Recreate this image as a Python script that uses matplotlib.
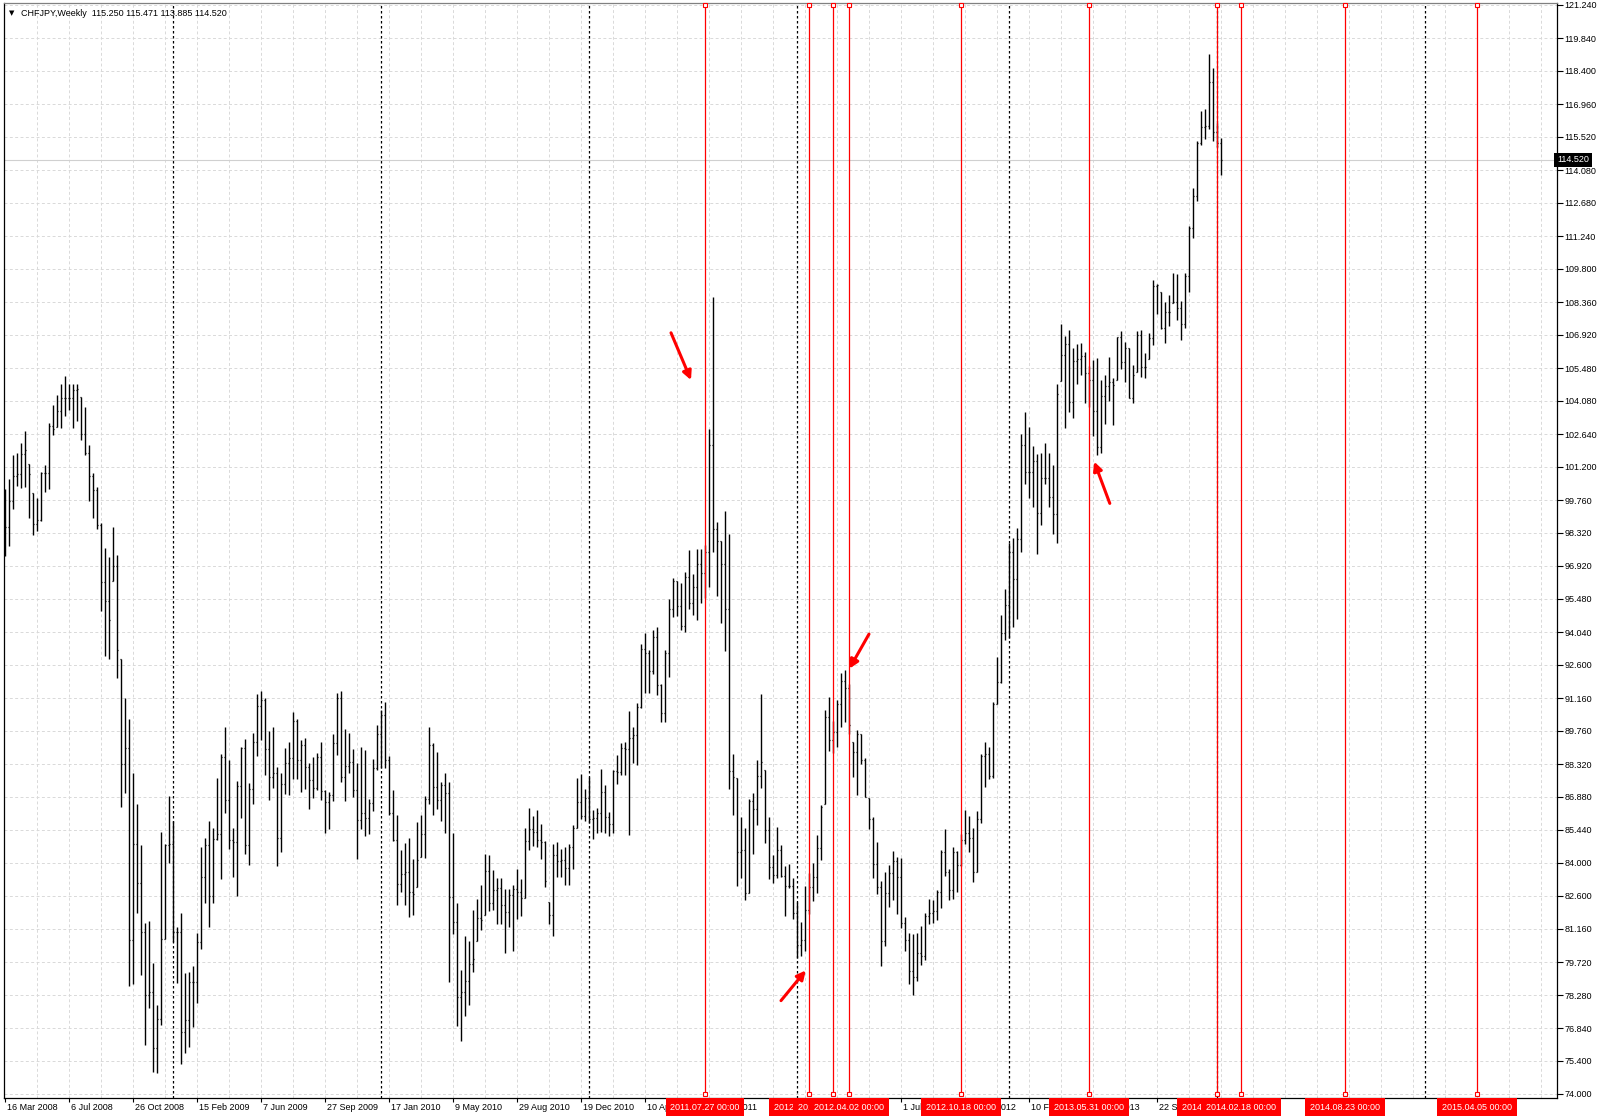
import datetime as dt
import numpy as np
import matplotlib
matplotlib.use("Agg")
import matplotlib.pyplot as plt

plt.rcParams['font.family'] = ['Liberation Sans', 'DejaVu Sans']

# weekly CHFJPY bars, first bar = week of 16 Mar 2008
start = dt.date(2008, 3, 16)
first_open = 99.80
highs = [
    100.26, 100.69, 101.72, 101.82, 102.25, 102.75, 101.31, 100.06, 99.87, 101.00,
    101.29, 103.12, 103.90, 104.31, 104.78, 105.13, 104.80, 104.80, 104.80, 104.25,
    103.80, 102.17, 100.94, 100.32, 98.78, 97.69, 97.28, 98.58, 97.39, 92.85,
    91.16, 90.26, 87.94, 86.60, 84.81, 81.42, 81.49, 79.68, 77.85, 85.37,
    84.86, 86.91, 85.84, 81.26, 81.84, 79.27, 79.31, 79.56, 81.00, 84.72,
    85.12, 85.85, 85.52, 87.69, 88.74, 89.90, 88.49, 85.54, 87.58, 89.07,
    89.39, 87.48, 89.65, 91.37, 91.47, 91.18, 89.75, 89.94, 88.20, 87.94,
    89.03, 89.26, 90.57, 90.28, 89.36, 89.44, 88.35, 88.61, 88.78, 89.29,
    87.18, 87.08, 89.62, 91.40, 91.47, 89.83, 89.65, 88.97, 88.35, 89.07,
    88.93, 86.81, 88.52, 90.00, 90.67, 91.00, 88.68, 87.18, 86.12, 84.60,
    84.90, 85.12, 84.21, 85.81, 86.10, 86.92, 89.91, 89.22, 88.85, 87.52,
    87.91, 87.55, 85.34, 82.29, 79.39, 80.87, 80.65, 82.00, 82.44, 83.08,
    84.43, 84.36, 83.70, 83.38, 83.38, 82.90, 82.90, 83.08, 83.75, 83.34,
    85.52, 86.42, 86.05, 86.34, 85.73, 84.96, 82.32, 84.86, 84.93, 84.61,
    84.72, 84.86, 85.66, 87.69, 87.87, 87.21, 87.77, 86.31, 86.39, 88.09,
    87.40, 86.24, 88.06, 88.71, 89.22, 89.29, 90.63, 89.94, 90.94, 93.52,
    93.98, 93.26, 94.12, 94.26, 91.77, 93.26, 95.47, 96.37, 96.25, 96.15,
    96.65, 97.61, 96.55, 97.65, 97.65, 97.80, 102.85, 108.56, 98.80, 97.97,
    99.30, 98.31, 88.75, 87.69, 86.02, 85.56, 86.80, 87.06, 88.49, 91.34,
    88.05, 86.02, 84.37, 85.60, 84.81, 83.91, 83.97, 83.37, 82.32, 81.48,
    83.02, 83.60, 84.01, 85.24, 86.52, 90.64, 91.20, 90.20, 91.08, 92.27,
    92.40, 91.80, 89.25, 89.81, 89.61, 88.57, 86.86, 86.01, 84.93, 83.26,
    83.65, 83.94, 84.53, 84.30, 84.24, 81.68, 80.99, 80.95, 80.99, 81.28,
    81.87, 82.47, 82.41, 82.86, 84.57, 85.48, 83.75, 84.73, 84.53, 85.30,
    86.30, 86.07, 85.56, 86.26, 88.77, 89.26, 89.06, 90.99, 92.96, 94.77,
    95.90, 97.92, 98.12, 98.55, 102.65, 103.59, 102.95, 102.10, 101.76, 101.82,
    102.22, 101.82, 101.27, 104.78, 107.41, 106.88, 107.14, 106.35, 106.52, 106.56,
    106.17, 105.60, 105.84, 105.94, 104.97, 105.21, 105.98, 105.04, 106.85, 107.11,
    106.60, 106.37, 105.62, 107.11, 107.14, 106.16, 107.03, 109.29, 109.13, 108.81,
    108.37, 108.66, 109.63, 109.56, 108.40, 109.60, 111.65, 113.30, 115.33, 116.66,
    116.75, 119.12, 118.49, 116.10, 115.471,
]
lows = [
    97.33, 97.76, 99.38, 100.39, 100.30, 100.32, 98.99, 98.25, 98.41, 98.85,
    100.12, 100.26, 102.60, 102.95, 102.89, 103.43, 103.67, 102.89, 103.18, 102.36,
    101.72, 99.71, 98.99, 98.50, 94.94, 92.99, 92.85, 96.24, 92.05, 86.46,
    87.05, 78.67, 78.78, 81.84, 79.17, 76.14, 77.74, 74.95, 74.91, 77.01,
    80.73, 84.03, 80.58, 78.82, 75.31, 75.79, 76.04, 76.91, 77.96, 80.29,
    82.29, 81.26, 82.28, 85.01, 83.34, 86.21, 84.62, 83.41, 82.58, 85.99,
    84.39, 83.92, 86.60, 88.67, 89.36, 87.84, 86.75, 87.29, 83.89, 84.50,
    87.00, 86.97, 87.66, 87.66, 87.08, 87.23, 86.36, 86.85, 87.18, 86.75,
    85.34, 85.48, 86.71, 88.71, 87.55, 86.71, 87.91, 86.87, 84.19, 85.49,
    85.18, 85.30, 86.27, 88.06, 88.13, 88.13, 86.10, 84.98, 82.20, 82.76,
    82.20, 81.67, 81.77, 82.97, 84.28, 84.25, 86.60, 86.10, 86.36, 85.83,
    85.33, 78.87, 80.94, 76.95, 76.30, 77.39, 77.85, 79.30, 80.65, 81.13,
    81.77, 81.92, 82.00, 81.38, 81.38, 80.10, 81.23, 80.21, 81.60, 81.74,
    82.50, 84.57, 84.76, 84.72, 84.18, 82.98, 81.38, 80.87, 83.41, 83.41,
    83.08, 83.08, 83.74, 85.52, 85.92, 85.83, 85.77, 85.05, 85.34, 85.37,
    85.34, 85.20, 85.34, 87.43, 87.84, 87.84, 85.25, 88.35, 88.29, 90.74,
    91.39, 91.39, 92.23, 91.33, 90.14, 90.14, 92.07, 94.68, 94.72, 94.12,
    94.06, 95.06, 94.78, 94.58, 95.32, 95.50, 95.98, 97.51, 95.62, 94.42,
    93.23, 87.21, 86.11, 83.04, 83.37, 82.42, 82.72, 84.41, 85.66, 87.29,
    84.90, 83.32, 83.17, 83.37, 83.43, 81.72, 82.92, 81.59, 79.89, 79.99,
    80.19, 81.80, 82.38, 82.72, 84.17, 86.56, 88.90, 88.80, 89.05, 89.94,
    90.14, 89.60, 87.75, 86.96, 88.31, 86.87, 85.48, 83.35, 82.66, 79.57,
    80.44, 82.11, 82.41, 81.82, 81.19, 80.20, 78.78, 78.29, 78.92, 79.61,
    79.81, 81.38, 81.42, 81.54, 82.07, 83.45, 82.41, 82.47, 82.76, 83.90,
    84.83, 84.49, 83.20, 83.65, 85.76, 87.33, 87.68, 87.72, 90.93, 91.82,
    93.69, 93.79, 94.24, 94.62, 97.49, 100.44, 99.85, 99.46, 97.43, 98.67,
    100.44, 99.46, 98.28, 97.89, 104.91, 102.89, 103.59, 103.34, 104.79, 105.19,
    103.98, 103.80, 102.55, 101.73, 101.80, 103.08, 104.05, 103.01, 104.97, 105.45,
    104.90, 104.20, 103.96, 105.33, 105.12, 105.04, 105.88, 106.49, 107.82, 107.19,
    106.56, 107.32, 108.30, 107.58, 106.71, 107.21, 108.81, 111.15, 112.75, 115.18,
    115.44, 115.88, 115.33, 115.10, 113.885,
]
closes = [
    98.60, 99.71, 100.80, 100.88, 101.78, 101.95, 100.88, 98.74, 98.89, 100.94,
    100.94, 102.99, 102.83, 103.63, 104.21, 104.19, 104.19, 104.55, 104.58, 102.65,
    101.82, 100.80, 100.20, 98.70, 96.22, 95.39, 94.57, 96.89, 93.24, 88.31,
    89.03, 80.67, 84.86, 83.17, 81.03, 78.30, 78.43, 75.99, 77.26, 80.73,
    84.81, 84.86, 81.01, 81.01, 76.68, 77.21, 78.86, 78.86, 80.58, 83.41,
    84.79, 82.58, 85.05, 85.30, 88.62, 86.75, 85.01, 84.93, 87.37, 89.00,
    84.82, 87.23, 89.25, 90.81, 91.10, 88.97, 87.77, 87.91, 85.11, 87.43,
    88.38, 88.56, 90.19, 88.49, 89.12, 88.20, 87.62, 87.26, 88.64, 87.14,
    86.68, 86.97, 89.22, 91.18, 87.74, 88.25, 88.42, 87.18, 85.88, 86.20,
    85.98, 86.63, 88.13, 89.61, 90.45, 88.50, 86.17, 85.01, 83.09, 83.55,
    83.63, 82.76, 82.68, 84.16, 85.27, 86.80, 89.12, 87.33, 86.75, 87.40,
    87.04, 82.54, 81.48, 78.21, 78.43, 78.91, 79.66, 79.85, 81.62, 81.55,
    83.67, 82.30, 82.86, 82.93, 82.21, 81.89, 82.64, 82.90, 82.76, 82.50,
    84.96, 85.49, 85.37, 85.01, 84.91, 83.22, 81.77, 84.38, 84.09, 84.14,
    83.80, 84.72, 85.52, 86.65, 86.07, 86.85, 85.91, 85.98, 86.17, 87.11,
    86.02, 85.73, 88.01, 87.98, 89.03, 88.96, 89.44, 89.58, 90.80, 93.30,
    93.13, 92.33, 93.83, 91.73, 90.54, 93.13, 95.02, 96.25, 95.18, 94.28,
    96.41, 95.32, 96.00, 97.01, 96.60, 97.50, 102.15, 98.50, 98.01, 96.97,
    95.02, 88.00, 87.75, 84.51, 84.57, 82.74, 86.72, 86.36, 87.81, 88.41,
    85.46, 83.83, 83.51, 84.57, 83.47, 83.04, 83.04, 81.84, 80.45, 80.69,
    82.00, 83.00, 83.43, 84.67, 86.46, 90.34, 89.35, 89.70, 90.90, 91.90,
    91.63, 90.00, 88.85, 89.60, 88.47, 86.90, 85.95, 83.98, 82.96, 80.64,
    82.72, 83.59, 84.10, 83.40, 81.42, 80.69, 79.32, 79.06, 80.10, 80.00,
    81.74, 81.84, 81.94, 82.76, 84.49, 83.65, 82.86, 84.49, 83.94, 85.00,
    85.32, 85.09, 83.65, 85.91, 88.67, 88.77, 87.78, 90.93, 91.86, 93.99,
    95.23, 97.53, 96.35, 98.08, 102.16, 100.98, 100.98, 101.47, 99.20, 100.72,
    100.72, 99.89, 99.15, 104.38, 106.04, 106.53, 104.00, 105.80, 105.88, 106.03,
    105.26, 104.99, 103.62, 102.07, 104.30, 104.71, 104.90, 104.75, 106.82, 105.77,
    106.37, 104.20, 105.19, 106.92, 105.55, 105.55, 106.78, 109.03, 109.10, 107.24,
    107.94, 107.91, 108.37, 108.08, 107.40, 109.50, 111.56, 112.94, 115.26, 115.94,
    115.98, 117.91, 115.73, 115.25, 114.520,
]

price_labels = [
    "121.240", "119.840", "118.400", "116.960", "115.520", "114.080", "112.680",
    "111.240", "109.800", "108.360", "106.920", "105.480", "104.080", "102.640",
    "101.200", "99.760", "98.320", "96.920", "95.480", "94.040", "92.600",
    "91.160", "89.760", "88.320", "86.880", "85.440", "84.000", "82.600",
    "81.160", "79.720", "78.280", "76.840", "75.400", "74.000",
]
marked_dates = [
    "2011.07.27", "2012.01.23", "2012.03.06", "2012.04.02", "2012.10.18",
    "2013.05.31", "2014.01.08", "2014.02.18", "2014.08.23", "2015.04.05",
]
separator_years = [2009, 2010, 2011, 2012, 2013, 2014, 2015]
header = "CHFJPY,Weekly  115.250 115.471 113.885 114.520"
bid = 114.520

# hand-drawn red arrows (tail week, tail price, head week, head price)
arrows = [
    (166.5, 107.02, 171.5, 104.97),
    (194.0, 78.05, 200.2, 79.36),
    (216.0, 93.95, 211.1, 92.45),
    (276.2, 99.62, 272.3, 101.43),
]

FS = 6.5
n = len(closes)
x = np.arange(n)
highs = np.array(highs)
lows = np.array(lows)
closes = np.clip(np.array(closes), lows, highs)
opens = np.clip(np.array([first_open] + list(closes[:-1])), lows, highs)

top_price, bottom_price = 121.24, 74.0
step = (top_price - bottom_price) / 33
grid_vals = top_price - step * np.arange(34)
px_per_unit = 33 / step
ylo = bottom_price - 4 / px_per_unit
yhi = top_price + 2 / px_per_unit
xlo, xhi = -0.25, 388.0

fig = plt.figure(figsize=(16, 11.18), dpi=100)
ax = fig.add_axes([4 / 1600, 20 / 1118, 1553 / 1600, 1095 / 1118])
ax.set_xlim(xlo, xhi)
ax.set_ylim(ylo, yhi)

# grid
grid_col = '#d9d9d9'
ax.hlines(grid_vals, xlo, xhi, colors=grid_col, lw=0.7, linestyles=(0, (3, 2.5)), zorder=0)
ax.vlines(np.arange(8, 389, 8), ylo, yhi, colors=grid_col, lw=0.7, linestyles=(0, (3, 2.5)), zorder=0)

# year separators
def week_index(d):
    return (d - start).days / 7.0

sep_x = [int(np.ceil(week_index(dt.date(y, 1, 1)))) for y in separator_years]
ax.vlines(sep_x, ylo, yhi, colors='black', lw=0.9, linestyles=(0, (2, 2)), zorder=1)

# bid line
ax.axhline(bid, color='#d0d0d0', lw=0.8, zorder=1)

# OHLC bars
ax.vlines(x, lows, highs, colors='black', lw=1.0, zorder=3)
ax.hlines(opens, x - 0.35, x, colors='black', lw=0.9, zorder=3)
ax.hlines(closes, x, x + 0.35, colors='black', lw=0.9, zorder=3)

xt = ax.get_xaxis_transform()
label_y = -9 / 1095

# bottom date labels
tick_idx = list(range(0, n, 16))
ax.set_xticks(tick_idx)
ax.tick_params(axis='x', length=3, width=0.8, labelbottom=False, direction='out')
for i in tick_idx:
    d = start + dt.timedelta(days=7 * i)
    ax.text(i + 0.45, label_y, f"{d.day} {d:%b %Y}", transform=xt, ha='left',
            va='center', fontsize=FS, color='black', clip_on=False, zorder=5)

# red vertical lines with their time labels
for k, s in enumerate(marked_dates):
    d = dt.datetime.strptime(s, "%Y.%m.%d").date()
    wx = int(np.floor(week_index(d)))
    ax.vlines(wx, bottom_price, top_price, colors='red', lw=0.9, zorder=6)
    ax.plot([wx, wx], [bottom_price, top_price], 's', ms=3.2, mfc='white',
            mec='red', mew=0.8, zorder=7, clip_on=False)
    ax.text(wx, label_y, s + " 00:00", transform=xt, ha='center', va='center',
            fontsize=FS, color='white', clip_on=False, zorder=10 + k,
            bbox=dict(boxstyle='square,pad=0.5', fc='red', ec='none'))

for tx, ty, hx, hy in arrows:
    ax.annotate('', xy=(hx, hy), xytext=(tx, ty), zorder=12,
                arrowprops=dict(arrowstyle='-|>', color='red', lw=2.2,
                                mutation_scale=13, shrinkA=0, shrinkB=0))

# price scale on the right
ax.yaxis.tick_right()
ax.set_yticks(grid_vals)
ax.set_yticklabels(price_labels)
ax.tick_params(axis='y', length=4, width=0.8, pad=1.5, labelsize=FS, direction='out')
ax.text(1.0, bid, "114.520", transform=ax.get_yaxis_transform(), ha='left',
        va='center', fontsize=FS, color='white', clip_on=False, zorder=20,
        bbox=dict(boxstyle='square,pad=0.3', fc='black', ec='none'))

for side in ['left', 'right', 'bottom']:
    ax.spines[side].set_color('black')
    ax.spines[side].set_linewidth(0.9)
ax.spines['top'].set_color('#808080')
ax.spines['top'].set_linewidth(0.9)

fig.text(9 / 1600, 1 - 13 / 1118, "\u25bc", fontsize=5, ha='left', va='center',
         family=['DejaVu Sans'])
fig.text(21 / 1600, 1 - 13 / 1118, header, fontsize=FS, ha='left', va='center')

fig.savefig("out.png", dpi=100, facecolor='white')
